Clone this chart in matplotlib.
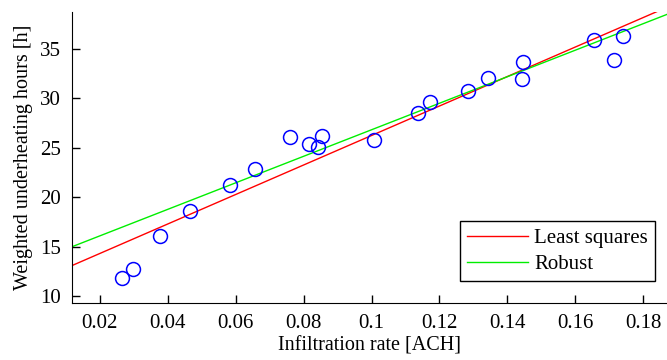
import numpy as np
import matplotlib.pyplot as plt

# measured points
infil_rate = [0.0265, 0.0297, 0.0377, 0.0465, 0.0583, 0.0657, 0.0760, 0.0816,
              0.0843, 0.0854, 0.1007, 0.1137, 0.1172, 0.1284, 0.1343, 0.1446,
              0.1443, 0.1655, 0.1714, 0.1740]
under_hours = [11.8, 12.8, 16.1, 18.6, 21.2, 22.9, 26.1, 25.4,
               25.1, 26.2, 25.8, 28.5, 29.6, 30.7, 32.1, 33.7,
               32.0, 35.9, 33.9, 36.3]

# fit coefficients (intercept, slope)
ls_coef = [11.34, 149.1]
robust_coef = [13.42, 134.1]

plt.rcParams['font.family'] = ['Liberation Serif', 'DejaVu Serif']
plt.rcParams['font.size'] = 15

fig = plt.figure(figsize=(6.67, 3.6), dpi=100)
ax = fig.add_axes([0.108, 0.158, 0.892, 0.809])

xlim = (0.0118, 0.187)
xs = np.array(xlim)
ax.plot(xs, ls_coef[0] + ls_coef[1] * xs, color='#ff0000', lw=1, label='Least squares')
ax.plot(xs, robust_coef[0] + robust_coef[1] * xs, color='#00ee00', lw=1, label='Robust')
ax.plot(infil_rate, under_hours, 'o', mfc='none', mec='#0000ff', ms=10, mew=1.1)

ax.set_xlim(*xlim)
ax.set_ylim(9.3, 38.75)
ax.set_xticks(np.arange(0.02, 0.181, 0.02))
ax.set_xticklabels(['0.02', '0.04', '0.06', '0.08', '0.1', '0.12', '0.14', '0.16', '0.18'])
ax.set_yticks([10, 15, 20, 25, 30, 35])
ax.tick_params(direction='in', length=6, width=1, pad=8, labelsize=15)
ax.spines['top'].set_visible(False)
ax.spines['right'].set_visible(False)

ax.set_xlabel('Infiltration rate [ACH]', labelpad=2, fontsize=14.5)
ax.set_ylabel('Weighted underheating hours [h]', labelpad=5, fontsize=14.5)

leg = ax.legend(loc='lower right', bbox_to_anchor=(0.98, 0.075), fancybox=False,
                edgecolor='black', framealpha=1, handlelength=2.9, borderpad=0.35,
                labelspacing=0.3, handletextpad=0.3, borderaxespad=0, fontsize=15)
leg.get_frame().set_linewidth(1)

fig.savefig('out.png', dpi=100)
